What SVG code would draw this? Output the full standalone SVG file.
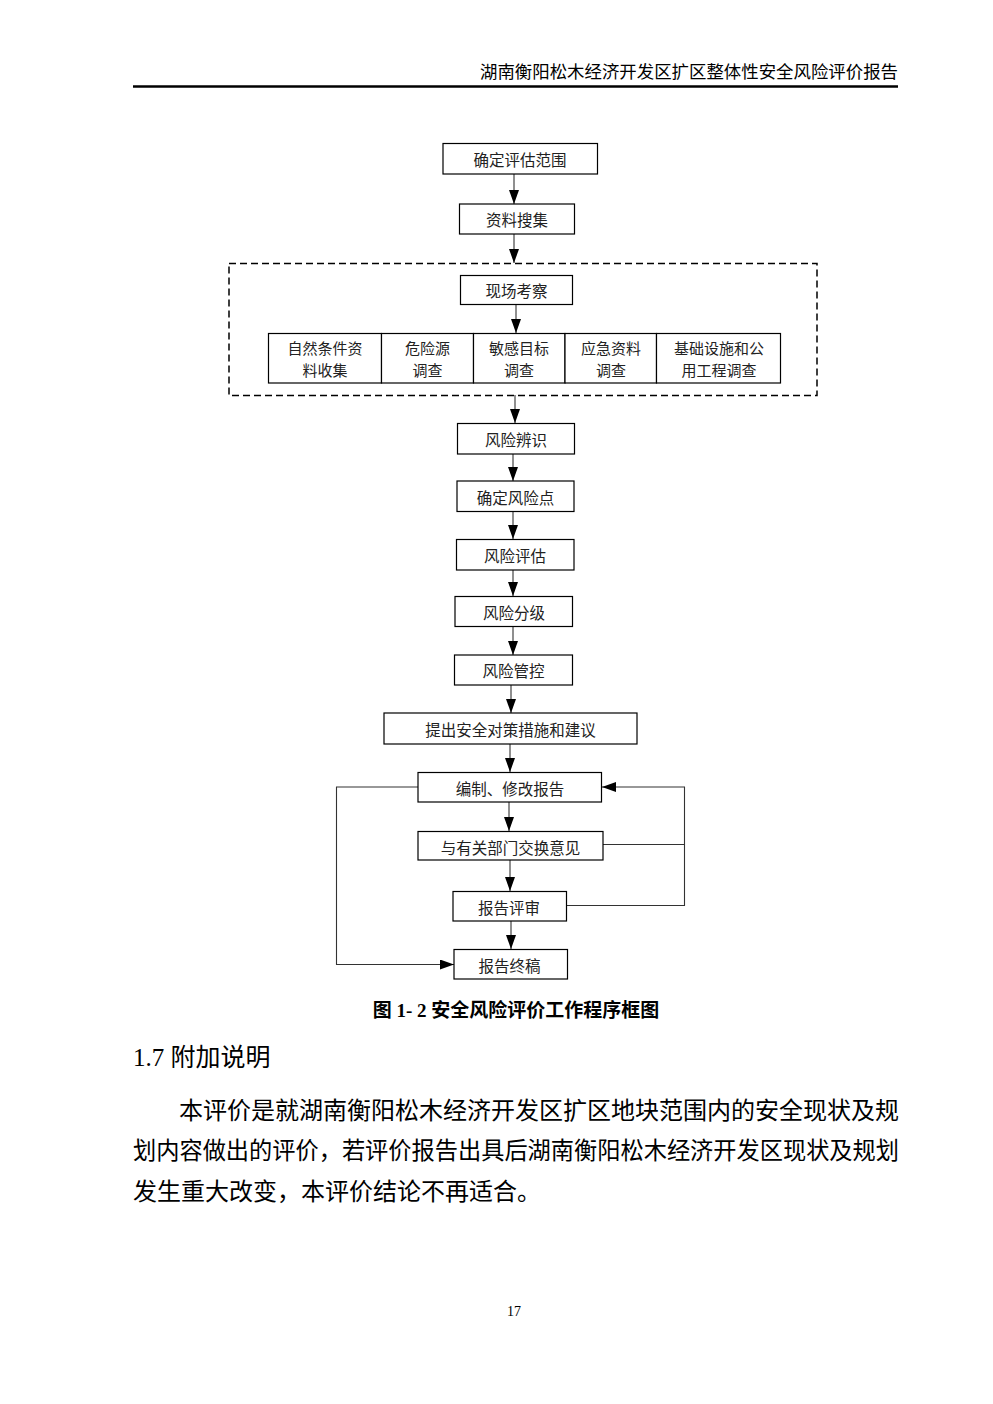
<svg xmlns="http://www.w3.org/2000/svg" width="993" height="1404" viewBox="0 0 993 1404">
<style>
.bg{fill:#fff}
.box{fill:#fff;stroke:#000;stroke-width:1.2}
.t{font-family:"Noto Sans CJK SC","Noto Sans",sans-serif;font-size:15.5px;fill:#222;text-anchor:middle;dominant-baseline:central}
.t2{font-family:"Noto Sans CJK SC","Noto Sans",sans-serif;font-size:15px;fill:#222;text-anchor:middle;dominant-baseline:central}
.c{fill:none;stroke:#333;stroke-width:1.1}
.dash{fill:none;stroke:#000;stroke-width:1.5;stroke-dasharray:7 4}
.hdr{font-family:"Noto Sans CJK SC",sans-serif;font-size:17.5px;fill:#000;text-anchor:end}
.cap{font-family:"Liberation Serif","Noto Sans CJK SC",serif;font-size:19px;font-weight:bold;fill:#000;text-anchor:middle;dominant-baseline:central}
.h2{font-family:"Liberation Serif","Noto Sans CJK SC",serif;font-size:25px;fill:#000;dominant-baseline:central}
.p{font-family:"Noto Sans CJK SC",sans-serif;font-size:24px;fill:#000;dominant-baseline:central}
.pg{font-family:"Liberation Serif",serif;font-size:14px;fill:#000;text-anchor:middle;dominant-baseline:central}
</style>
<defs>
<marker id="arr" viewBox="0 0 14 10" refX="14" refY="5" markerWidth="14" markerHeight="10" markerUnits="userSpaceOnUse" orient="auto">
<path d="M0,0 L14,5 L0,10 z" fill="#000"/>
</marker>
</defs>
<rect class="bg" x="0" y="0" width="993" height="1404"/>

<g id="header">
<text class="hdr" x="898" y="78" textLength="418" lengthAdjust="spacingAndGlyphs">湖南衡阳松木经济开发区扩区整体性安全风险评价报告</text>
<line x1="133" y1="86.5" x2="898" y2="86.5" stroke="#000" stroke-width="2.5"/>
</g>

<g id="connectors">
<line class="c" x1="514" y1="174" x2="514" y2="204" marker-end="url(#arr)"/>
<line class="c" x1="514" y1="234" x2="514" y2="263" marker-end="url(#arr)"/>
<line class="c" x1="516" y1="305" x2="516" y2="333" marker-end="url(#arr)"/>
<line class="c" x1="515" y1="395" x2="515" y2="423" marker-end="url(#arr)"/>
<line class="c" x1="513" y1="454" x2="513" y2="481" marker-end="url(#arr)"/>
<line class="c" x1="513" y1="512" x2="513" y2="539" marker-end="url(#arr)"/>
<line class="c" x1="513" y1="570" x2="513" y2="596" marker-end="url(#arr)"/>
<line class="c" x1="513" y1="627" x2="513" y2="655" marker-end="url(#arr)"/>
<line class="c" x1="511" y1="685" x2="511" y2="713" marker-end="url(#arr)"/>
<line class="c" x1="510" y1="744" x2="510" y2="772" marker-end="url(#arr)"/>
<line class="c" x1="509" y1="802" x2="509" y2="831" marker-end="url(#arr)"/>
<line class="c" x1="510" y1="860" x2="510" y2="891" marker-end="url(#arr)"/>
<line class="c" x1="511" y1="921" x2="511" y2="949" marker-end="url(#arr)"/>
<polyline class="c" points="603,844.5 684.5,844.5"/>
<polyline class="c" points="567,905.5 684.5,905.5 684.5,787 602,787" marker-end="url(#arr)"/>
<polyline class="c" points="418,787 336.5,787 336.5,964.5 454,964.5" marker-end="url(#arr)"/>
</g>

<g id="n1"><rect class="box" x="443" y="143.5" width="154.5" height="30.5"/><text class="t" x="520" y="159">确定评估范围</text></g>
<g id="n2"><rect class="box" x="459.5" y="204" width="115" height="30"/><text class="t" x="517" y="219">资料搜集</text></g>

<g id="group-survey">
<rect class="dash" x="229" y="263.5" width="588" height="132"/>
</g>
<g id="n3"><rect class="box" x="460.5" y="275.5" width="112" height="29"/><text class="t" x="516.5" y="290">现场考察</text></g>
<g id="n4"><rect class="box" x="268.5" y="333.5" width="113" height="49.5"/><text class="t2" x="325" y="347.5">自然条件资</text><text class="t2" x="325" y="369">料收集</text></g>
<g id="n5"><rect class="box" x="381.5" y="333.5" width="92" height="49.5"/><text class="t2" x="427.5" y="347.5">危险源</text><text class="t2" x="427.5" y="369">调查</text></g>
<g id="n6"><rect class="box" x="473.5" y="333.5" width="91.5" height="49.5"/><text class="t2" x="519" y="347.5">敏感目标</text><text class="t2" x="519" y="369">调查</text></g>
<g id="n7"><rect class="box" x="565" y="333.5" width="91.5" height="49.5"/><text class="t2" x="611" y="347.5">应急资料</text><text class="t2" x="611" y="369">调查</text></g>
<g id="n8"><rect class="box" x="656.5" y="333.5" width="124" height="49.5"/><text class="t2" x="719" y="347.5">基础设施和公</text><text class="t2" x="719" y="369">用工程调查</text></g>

<g id="n9"><rect class="box" x="457.5" y="423.5" width="117" height="30.5"/><text class="t" x="516" y="439">风险辨识</text></g>
<g id="n10"><rect class="box" x="457" y="481" width="117" height="30.5"/><text class="t" x="515.5" y="496.5">确定风险点</text></g>
<g id="n11"><rect class="box" x="456.5" y="539.5" width="117.5" height="30.5"/><text class="t" x="515" y="555">风险评估</text></g>
<g id="n12"><rect class="box" x="455" y="596.5" width="117.5" height="30"/><text class="t" x="514" y="611.5">风险分级</text></g>
<g id="n13"><rect class="box" x="454.5" y="655" width="118" height="30"/><text class="t" x="513.5" y="670">风险管控</text></g>
<g id="n14"><rect class="box" x="384" y="713" width="253" height="31"/><text class="t" x="510.5" y="729">提出安全对策措施和建议</text></g>
<g id="n15"><rect class="box" x="418" y="772.5" width="183.5" height="29.5"/><text class="t" x="510" y="788">编制、修改报告</text></g>
<g id="n16"><rect class="box" x="418" y="831.5" width="185" height="28.5"/><text class="t" x="510.5" y="846.5">与有关部门交换意见</text></g>
<g id="n17"><rect class="box" x="453" y="891.5" width="113.5" height="29.5"/><text class="t" x="509" y="906.5">报告评审</text></g>
<g id="n18"><rect class="box" x="454" y="949.5" width="113.5" height="29.5"/><text class="t" x="509.5" y="965">报告终稿</text></g>

<g id="body">
<text class="cap" x="516" y="1010">图 1- 2 安全风险评价工作程序框图</text>
<text class="h2" x="133" y="1057">1.7 附加说明</text>
<text class="p" x="179" y="1108" textLength="720" lengthAdjust="spacingAndGlyphs">本评价是就湖南衡阳松木经济开发区扩区地块范围内的安全现状及规</text>
<text class="p" x="133" y="1148" textLength="766" lengthAdjust="spacingAndGlyphs">划内容做出的评价，若评价报告出具后湖南衡阳松木经济开发区现状及规划</text>
<text class="p" x="133" y="1189">发生重大改变，本评价结论不再适合。</text>
<text class="pg" x="514" y="1311">17</text>
</g>
</svg>
